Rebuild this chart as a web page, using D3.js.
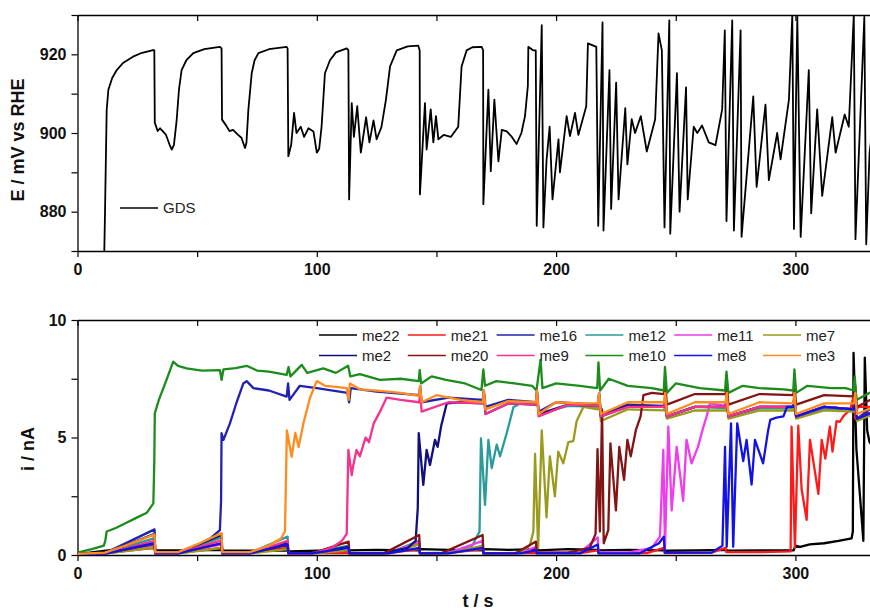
<!DOCTYPE html>
<html><head><meta charset="utf-8">
<script src="https://cdn.jsdelivr.net/npm/d3@7"></script>
<style>
html,body{margin:0;padding:0;background:#fff;}
svg{display:block;font-family:"Liberation Sans",Arial,sans-serif;}
</style></head>
<body><svg id="c" width="870" height="612"></svg>
<script>
// ---------- DATA ----------
const xTickValues = [0,50,100,150,200,250,300,350];
const xTickLabels = [0,100,200,300];
const topYTicks = [870,880,890,900,910,920,930];
const topYLabels = [880,900,920];
const botYTicks = [0,2.5,5,7.5,10];
const botYLabels = [0,5,10];

const gds = [[11.2,870],[11.5,880],[11.9,895],[12.2,905.9],[12.9,911],[14.5,914],[16.4,916],[19,917.8],[23.2,919.4],[27,920.4],[31.6,921.1],[32.1,921],
[32.3,902.6],[33.5,900.5],[34.5,901.2],[35.7,900.4],[37,899.5],[38.5,897],[39.4,895.8],[40.3,897],[41.4,903],[42.4,911],[43.5,916],[45.5,918.5],[48.4,920.3],[53,921.3],[59.5,921.9],
[60.2,921.5],[60.4,903.4],[62,902],[63.5,900.5],[65,900.8],[67,899.6],[68.5,898.8],[70,896.2],[70.6,897.5],[71.4,905.9],[72.8,915.2],[74,918.5],[75.6,920.3],[80,921.3],[87.4,921.9],
[87.8,921.5],[88.1,894.1],[89.3,897],[90.5,905.1],[91.5,900],[93.3,901.6],[94.7,899],[96.5,901.2],[98.6,900.4],[100,895],[101,896],[102,901.6],[103.4,915.2],[105.5,918.5],[108,920.5],[112.5,921.5],
[113.2,921],[113.5,883.1],[114.6,907.6],[115.5,899],[116.9,906.8],[118.4,895],[120.6,904],[122,897.6],[123.7,903.2],[125,898.4],[127,901.5],[128.9,908.5],[130.6,916.9],[133.4,921],[138,922],[142.4,922.2],
[143,921],[143.1,884.4],[145.2,907.6],[145.9,895.8],[147.6,906],[148.7,897.6],[149.8,904.3],[150.8,898.4],[153,899.5],[156,899],[159.1,901.6],[160.5,916.9],[162.6,921],[165,921.8],[168.9,921.9],
[169.5,921],[169.6,881.9],[171.7,911],[172.7,890.3],[174.2,908.5],[175.9,892.8],[177.3,900.8],[179.4,900.4],[181.5,899],[183.5,897.2],[185.5,900],[187,904.3],[188.2,912],[188.4,921.9],[190.5,921],[191.5,921],
[191.9,876.4],[194,927.4],[194.7,876],[196,893],[197.3,901.6],[198.5,883.1],[201,898.4],[201.6,890],[204.4,904.3],[205.8,899.2],[207.9,905.1],[209.3,899.5],[210,901],[212.6,906.8],[213.3,922.8],[216.8,921.9],
[217.6,876.4],[219.4,928.1],[219.8,875.2],[222.3,916],[223,880.7],[225.1,912.8],[226.1,883.1],[228.9,906.3],[229.8,892],[231.6,903.5],[233,900],[235.4,904.3],[237.9,895.3],[241.4,903.5],[242.8,925.3],[244.2,921],
[245.3,876],[247.3,928.6],[247.7,874.4],[250.5,915.2],[251.6,880],[254.3,911.6],[255,883.1],[257.5,901.6],[259,900],[261,901.9],[263.8,897.6],[266.6,896.9],[269.4,906],[270.5,926.1],
[271.2,877.6],[273.6,928.6],[274.3,875.2],[277.1,926.1],[277.5,873.6],[282.4,909.3],[283.8,886.3],[287.5,907.2],[288.9,888],[292.4,900],[293.8,893.3],[297.3,908.5],[298.7,929.9],
[299.4,875.6],[300.8,929.5],[302.2,873.6],[305.6,916],[306.6,879.6],[309.1,906],[311.2,884],[315.4,904],[316.8,895],[320.6,904.7],[322.3,901.6],[324.4,930],
[325.1,873],[328.8,929.5],[329.6,871.7],[331,895],[332,900]];

const seriesNames = ["me22","me21","me16","me12","me11","me7","me2","me20","me9","me10","me8","me3"];
const seriesColors = ["#000000","#ff1a1a","#2222b0","#2a9a9a","#ee3cee","#9a9a1e","#10107e","#821414","#f5328c","#1c8c1c","#1212e6","#ff8c1e"];

const me22 = [[0,0.05],[5,0.1],[11,0.18],[20,0.28],[32.2,0.3],[32.5,0.2],[45,0.2],[60,0.22],[60.5,0.2],[75,0.18],[88,0.2],[88.5,0.15],[100,0.18],[113,0.15],[113.5,0.2],[125,0.22],[143,0.2],[143.5,0.25],[155,0.22],[169.5,0.2],[170,0.25],[180,0.22],[191.8,0.25],[192.5,0.2],[205,0.25],[217.6,0.22],[218,0.2],[230,0.22],[245.3,0.2],[246,0.18],[258,0.2],[271,0.22],[272,0.18],[285,0.2],[299.3,0.2],[300,0.4],[302,0.35],[306,0.45],[312,0.5],[318,0.6],[323.5,0.71],[324,1],[324.3,8.6],[325.5,4.5],[327,2.5],[328.4,0.6],[329,8.4],[330,5.3],[331,4.8],[333,4.5]];
const me21 = [[0,0.05],[12,0.08],[32.2,0.3],[32.5,0.08],[42,0.08],[60.2,0.3],[60.5,0.08],[72,0.08],[87.8,0.3],[88.1,0.08],[113.5,0.08],[130,0.08],[142.8,0.25],[143.1,0.08],[155,0.08],[169.3,0.25],[169.6,0.08],[191.8,0.08],[210,0.08],[217.4,0.2],[217.7,0.08],[238,0.08],[245,0.3],[245.4,0.08],[265,0.1],[270.8,0.3],[271.1,0.12],[285,0.12],[298,0.15],[298.4,5.46],[299.8,0.3],[301.2,5.5],[302.6,2.8],[304.7,1.5],[306.1,4.9],[309.6,2.6],[311,4.9],[312.5,4.1],[314.4,5.46],[315.5,4.4],[317.2,5.7],[318.6,5.67],[320,5.9],[323,6.2],[324.4,6.8],[325,5.8],[326,6.3],[331,6.3],[335,6.3]];
const me16 = [[0,0.05],[12,0.1],[32.2,1.09],[32.5,0.1],[42,0.1],[50,0.4],[56,0.75],[59.5,1.06],[60,2.3],[60.2,5.18],[61,4.9],[63.7,5.6],[66.5,6.5],[69.3,7.3],[70.7,7.4],[73.5,7.1],[80,7.0],[87.4,6.74],[88,7.3],[88.6,6.6],[92.9,7.2],[100,7.1],[112.8,6.9],[113.5,6.5],[114.2,7.1],[125,6.95],[142.8,6.8],[143.2,7.2],[143.8,6.5],[155,6.7],[169.3,6.6],[169.8,7.0],[170.5,6.3],[180,6.6],[191.6,6.5],[192,7.0],[192.7,6.1],[200,6.5],[217.4,6.4],[218,6.9],[218.7,6.0],[230,6.4],[245.1,6.35],[245.6,6.8],[246.3,5.9],[258,6.3],[270.8,6.3],[271.3,6.8],[272,5.9],[285,6.3],[299.1,6.3],[299.6,6.8],[300.3,5.9],[312,6.3],[324.5,6.2],[325,6.7],[325.7,5.8],[331,6.2],[335,6.2]];
const me12 = [[0,0.05],[12,0.08],[32.2,0.72],[32.5,0.08],[42,0.08],[60.2,0.75],[60.5,0.08],[72,0.08],[87.8,0.78],[88.1,0.08],[98,0.08],[113.3,0.4],[113.6,0.08],[130,0.08],[142.8,0.6],[143.1,0.08],[155,0.1],[165,0.4],[168,1.0],[168.6,4.96],[170.3,2.13],[171.7,4.9],[173.1,3.7],[175.2,4.7],[176.6,4.2],[179.4,5.2],[182.2,6.3],[185,6.45],[191.6,6.4],[192,6.9],[192.7,6.0],[205,6.35],[217.4,6.3],[218,6.8],[218.7,5.9],[230,6.3],[245.1,6.3],[245.6,6.7],[246.3,5.9],[258,6.3],[270.8,6.25],[271.3,6.7],[272,5.9],[285,6.25],[299.1,6.25],[299.6,6.7],[300.3,5.9],[312,6.2],[324.5,6.2],[325,6.6],[325.7,5.8],[335,6.2]];
const me11 = [[0,0.05],[12,0.08],[32.2,0.4],[32.5,0.08],[42,0.08],[60.2,0.45],[60.5,0.08],[72,0.08],[87.8,0.5],[88.1,0.08],[98,0.08],[113.3,0.3],[113.6,0.08],[130,0.08],[142.8,0.55],[143.1,0.08],[155,0.08],[169.3,0.6],[169.6,0.08],[185,0.08],[191.6,0.35],[191.9,0.1],[210,0.1],[217.4,0.75],[217.7,0.12],[230,0.1],[240,0.3],[243.4,0.78],[244.8,4.47],[245.5,0.3],[246.9,5.46],[248.3,1.9],[250.4,4.6],[253.1,2.3],[254.5,4.9],[256.6,3.9],[259.3,4.6],[261.4,5.4],[262.9,5.9],[264.3,6.45],[270.8,6.35],[271.3,6.8],[272,5.9],[285,6.3],[299.1,6.3],[299.6,6.7],[300.3,5.9],[312,6.3],[324.5,6.2],[325,6.6],[325.7,5.8],[335,6.2]];
const me7 = [[0,0.03],[12,0.06],[32.2,0.33],[32.5,0.06],[42,0.06],[60.2,0.3],[60.5,0.06],[72,0.06],[87.8,0.25],[88.1,0.06],[98,0.06],[113.3,0.2],[113.6,0.06],[130,0.06],[142.8,0.45],[143.1,0.06],[155,0.06],[169.3,0.4],[169.6,0.06],[185,0.1],[189,0.4],[190.5,1.0],[191.2,4.3],[192.5,0.3],[194,5.3],[196,1.6],[197.4,4.2],[199.5,2.5],[200.9,4.4],[203,3.9],[205.1,4.8],[207.2,4.85],[208.6,5.7],[211.4,6.3],[217.4,6.2],[218,6.6],[218.7,5.7],[230,6.2],[245.1,6.15],[245.6,6.5],[246.3,5.8],[258,6.15],[270.8,6.15],[271.3,6.5],[272,5.8],[285,6.15],[299.1,6.15],[299.6,6.5],[300.3,5.8],[312,6.15],[324.5,6.1],[325,6.5],[325.7,5.7],[335,6.1]];
const me2 = [[0,0.05],[12,0.08],[32.2,0.9],[32.5,0.08],[42,0.08],[60.2,0.85],[60.5,0.08],[72,0.08],[87.8,0.55],[88.1,0.08],[98,0.08],[113.3,0.35],[113.6,0.08],[128,0.08],[138,0.3],[141.3,0.6],[142.2,2],[142.6,5.18],[144.5,2.98],[145.9,4.47],[147.3,3.83],[149.4,4.9],[150.5,4.6],[152,5.5],[154.3,6.45],[160,6.5],[169.3,6.45],[169.8,6.9],[170.5,6.0],[180,6.45],[191.6,6.4],[192,6.9],[192.7,6.0],[205,6.4],[217.4,6.35],[218,6.8],[218.7,5.9],[230,6.35],[245.1,6.3],[245.6,6.7],[246.3,5.9],[258,6.3],[270.8,6.3],[271.3,6.7],[272,5.9],[285,6.3],[299.1,6.3],[299.6,6.7],[300.3,5.9],[312,6.3],[324.5,6.2],[325,6.6],[325.7,5.8],[335,6.2]];
const me20 = [[0,0.04],[12,0.07],[32.2,0.47],[32.5,0.07],[42,0.07],[60.2,0.5],[60.5,0.07],[72,0.07],[87.8,0.42],[88.1,0.07],[98,0.07],[113.3,0.57],[113.6,0.07],[128,0.07],[142.8,0.85],[143.1,0.07],[152,0.07],[169.3,0.85],[169.6,0.07],[183,0.07],[191.6,0.57],[191.9,0.1],[205,0.1],[214,0.3],[216.5,0.9],[217.3,4.5],[218.3,1.0],[219.2,6.2],[219.9,0.5],[221.8,1.06],[222.7,4.75],[225,1.9],[226.4,4.6],[228.4,3.2],[229.8,4.9],[231.2,4.2],[233.3,5.3],[235.3,5.9],[236.5,6.8],[240,6.9],[245.1,6.85],[245.6,7.3],[246.3,6.4],[258,6.85],[270.8,6.85],[271.3,7.3],[272,6.4],[285,6.85],[299.1,6.8],[299.6,7.2],[300.3,6.4],[312,6.8],[324.5,6.75],[325,7.2],[325.7,6.3],[335,6.8]];
const me9 = [[0,0.04],[12,0.07],[32.2,0.6],[32.5,0.07],[42,0.07],[60.2,0.62],[60.5,0.07],[72,0.07],[87.8,0.6],[88.1,0.05],[98,0.05],[106,0.3],[110.5,0.6],[112.5,0.9],[113.2,4.47],[114.6,3.4],[115.2,3.8],[116.6,4.47],[118,4.2],[120.4,5.0],[121.8,4.8],[123.8,5.6],[126.4,6.1],[129.2,6.7],[135,6.6],[142.8,6.5],[143.2,6.9],[143.8,6.1],[155,6.5],[169.3,6.45],[169.8,6.9],[170.5,6.0],[180,6.45],[191.6,6.4],[192,6.8],[192.7,5.9],[205,6.4],[217.4,6.35],[218,6.8],[218.7,5.9],[230,6.3],[245.1,6.3],[245.6,6.7],[246.3,5.9],[258,6.3],[270.8,6.3],[271.3,6.7],[272,5.9],[285,6.3],[299.1,6.3],[299.6,6.7],[300.3,5.9],[312,6.3],[324.5,6.2],[325,6.6],[325.7,5.8],[335,6.2]];
const me10 = [[0,0.1],[6,0.25],[11,0.4],[11.6,0.6],[12.2,1.0],[16,1.15],[20,1.35],[25,1.6],[29,1.8],[31.7,2.2],[32.1,4],[32.3,6.03],[34,6.6],[37,7.4],[40,8.23],[42,8.05],[45.6,7.94],[52,7.85],[59.5,7.87],[60.2,7.45],[61,7.9],[66,7.95],[70.7,8.05],[75,7.85],[80,7.8],[87.4,7.66],[88.2,8.0],[89,7.6],[93.7,8.09],[96,7.75],[102.7,7.94],[108,7.75],[113.1,8.05],[114,7.6],[118,7.7],[126.4,7.45],[135,7.5],[142.6,7.4],[143,7.87],[143.6,7.3],[148,7.6],[154,7.45],[162,7.3],[168.8,7.02],[169.6,7.9],[170.3,7.2],[175,7.4],[182.6,7.3],[190,7.2],[191.8,7.0],[193.5,8.3],[194.3,7.1],[200,7.3],[210,7.2],[217.2,7.1],[217.7,8.2],[218.4,7.0],[222,7.5],[230,7.2],[240,7.1],[245,7.0],[245.5,8.0],[246.3,6.9],[250,7.3],[260,7.1],[270.6,7.0],[271.2,7.8],[272,6.9],[278,7.2],[285,7.1],[295,7.05],[299.1,7.0],[299.6,7.9],[300.3,6.9],[305,7.2],[315,7.1],[321,7.1],[324.3,7.0],[324.8,7.6],[325.5,6.6],[331,6.9],[335,6.9]];
const me8 = [[0,0.04],[12,0.07],[32.2,0.5],[32.5,0.07],[42,0.07],[60.2,0.5],[60.5,0.07],[72,0.07],[87.8,0.45],[88.1,0.07],[98,0.07],[113.3,0.3],[113.6,0.07],[130,0.07],[142.8,0.3],[143.1,0.07],[155,0.07],[169.3,0.3],[169.6,0.07],[185,0.07],[191.6,0.2],[191.9,0.07],[210,0.07],[217.4,0.45],[217.7,0.07],[235,0.07],[243,0.5],[245,0.78],[245.4,0.1],[265,0.1],[269.5,0.4],[270.6,4.6],[271.3,0.35],[273.1,5.6],[274,0.35],[275.7,5.6],[278.2,4.0],[279.6,4.9],[281.7,3.0],[283.1,4.9],[286.5,3.9],[288.6,5.3],[289.5,5.75],[292.1,5.85],[295,5.9],[296.5,6.3],[299.1,6.3],[299.6,6.7],[300.3,5.9],[312,6.3],[324.5,6.2],[325,6.6],[325.7,5.8],[335,6.2]];
const me3 = [[0,0.05],[11.5,0.1],[20,0.4],[32.2,0.88],[32.5,0.12],[42,0.12],[50,0.45],[60.2,0.93],[60.5,0.12],[72,0.12],[80,0.4],[85,0.7],[86.7,1.0],[87.5,5.3],[89.5,4.18],[91,5.2],[92.4,4.6],[94.4,5.6],[97.2,6.7],[100,7.4],[103.4,7.2],[108,7.15],[112.5,7.1],[113.3,6.6],[113.8,7.3],[118,7.05],[126.4,6.98],[135,6.9],[142.8,6.77],[143.2,7.2],[143.8,6.5],[150,6.8],[160,6.6],[169.3,6.5],[169.8,7.0],[170.5,6.2],[180,6.55],[191.6,6.5],[192,7.0],[192.7,6.0],[200,6.5],[210,6.45],[217.4,6.45],[218,6.9],[218.7,6.0],[230,6.5],[245.1,6.5],[245.6,6.9],[246.3,6.0],[258,6.5],[270.8,6.5],[271.3,6.9],[272,6.0],[285,6.5],[299.1,6.45],[299.6,6.9],[300.3,6.0],[312,6.45],[324.5,6.45],[325,6.9],[325.7,6.0],[335,6.4]];
const seriesValues = [me22,me21,me16,me12,me11,me7,me2,me20,me9,me10,me8,me3];

// ---------- DRAW ----------
const svg = d3.select("#c");
const L = 77.5, R = 77.5 + 335*2.393;
const x = d3.scaleLinear().domain([0,335]).range([L,R]);
const yT = d3.scaleLinear().domain([870,930]).range([251,15]);
const yB = d3.scaleLinear().domain([0,10]).range([555,320]);
const tickFont = "bold 16px 'Liberation Sans', Arial, sans-serif";

const defs = svg.append("defs");
defs.append("clipPath").attr("id","clipT").append("rect").attr("x",L).attr("y",15).attr("width",R-L).attr("height",236);
defs.append("clipPath").attr("id","clipB").append("rect").attr("x",L).attr("y",320).attr("width",R-L).attr("height",235);

function panel(y, labelsY, ticksY){
  const [y0,y1] = y.range();
  const gb = svg.append("g").attr("transform",`translate(0,${y0})`)
    .call(d3.axisBottom(x).tickValues(xTickValues).tickSize(6).tickSizeOuter(0).tickPadding(7)
      .tickFormat(d => xTickLabels.includes(d) ? d : ""));
  const gt = svg.append("g").attr("transform",`translate(0,${y1})`)
    .call(d3.axisTop(x).tickValues(xTickValues).tickSize(-6).tickSizeOuter(0).tickFormat(""));
  const gl = svg.append("g").attr("transform",`translate(${L},0)`)
    .call(d3.axisLeft(y).tickValues(ticksY).tickSize(6).tickSizeOuter(0).tickPadding(5)
      .tickFormat(d => labelsY.includes(d) ? d : ""));
  [gb,gt,gl].forEach(g=>{
    g.selectAll("path.domain").attr("stroke","#000").attr("stroke-width",1.3);
    g.selectAll(".tick line").attr("stroke","#000").attr("stroke-width",1.2);
    g.selectAll(".tick text").style("font",tickFont).attr("fill","#111");
  });
}
panel(yT, topYLabels, topYTicks);
panel(yB, botYLabels, botYTicks);

// GDS line
svg.append("g").attr("clip-path","url(#clipT)").append("path")
  .datum(gds).attr("fill","none").attr("stroke","#000").attr("stroke-width",1.8).attr("stroke-linejoin","round")
  .attr("d", d3.line().x(d=>x(d[0])).y(d=>yT(d[1])));

// bottom series
const gB = svg.append("g").attr("clip-path","url(#clipB)");
seriesValues.forEach((s,i)=>{
  gB.append("path").datum(s).attr("fill","none").attr("stroke",seriesColors[i]).attr("stroke-width",2.3)
    .attr("stroke-linejoin","round")
    .attr("d", d3.line().x(d=>x(d[0])).y(d=>yB(d[1])));
});

// axis titles
svg.append("text").attr("transform","translate(24,140) rotate(-90)").attr("text-anchor","middle")
  .style("font","bold 18px 'Liberation Sans', Arial, sans-serif").attr("fill","#111").text("E / mV vs RHE");
svg.append("text").attr("transform","translate(34,449) rotate(-90)").attr("text-anchor","middle")
  .style("font","bold 18px 'Liberation Sans', Arial, sans-serif").attr("fill","#111").text("i / nA");
svg.append("text").attr("x",478).attr("y",607).attr("text-anchor","middle")
  .style("font","bold 18px 'Liberation Sans', Arial, sans-serif").attr("fill","#111").text("t / s");

// GDS legend
svg.append("line").attr("x1",120).attr("x2",158).attr("y1",208).attr("y2",208).attr("stroke","#000").attr("stroke-width",1.5);
svg.append("text").attr("x",163).attr("y",213).style("font","15px 'Liberation Sans', Arial, sans-serif").attr("fill","#222").text("GDS");

// bottom legend (2 rows x 6 cols)
seriesNames.forEach((name,i)=>{
  const row = Math.floor(i/6), col = i%6;
  const lx = 319 + col*88.8, ly = 335 + row*20.5;
  svg.append("line").attr("x1",lx).attr("x2",lx+38).attr("y1",ly).attr("y2",ly).attr("stroke",seriesColors[i]).attr("stroke-width",1.6);
  svg.append("text").attr("x",lx+43).attr("y",ly+5.5).style("font","15px 'Liberation Sans', Arial, sans-serif").attr("fill","#222").text(name);
});
</script></body></html>
